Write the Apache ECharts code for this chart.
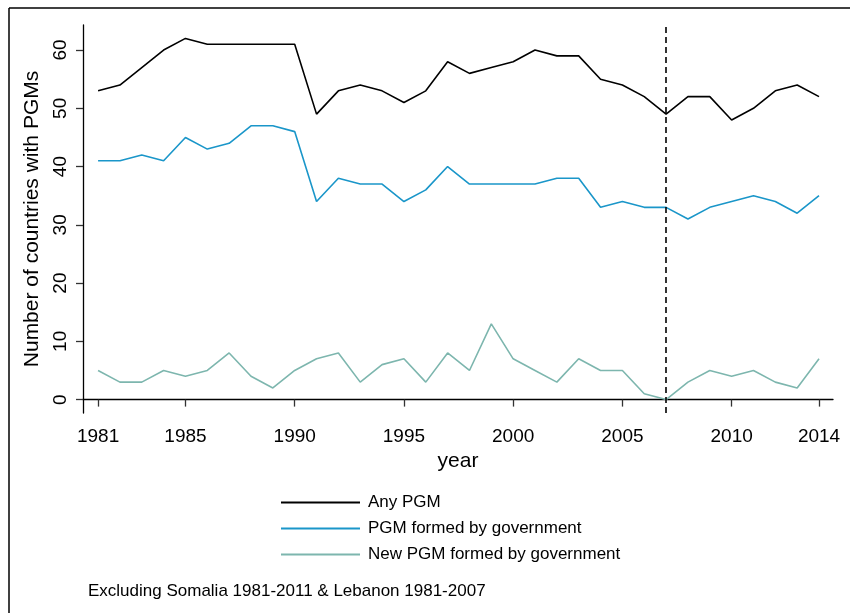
<!DOCTYPE html>
<html>
<head>
<meta charset="utf-8">
<script src="https://cdn.jsdelivr.net/npm/echarts@6/dist/echarts.min.js"></script>
<style>
  html, body { margin: 0; padding: 0; background: #fff; }
  #chart { width: 850px; height: 613px; }
</style>
</head>
<body>
<div id="chart"></div>
<script>
// Years covered by the series
const years = [1981,1982,1983,1984,1985,1986,1987,1988,1989,1990,1991,1992,1993,1994,1995,1996,1997,
  1998,1999,2000,2001,2002,2003,2004,2005,2006,2007,2008,2009,2010,2011,2012,2013,2014];

// Countries with any pro-government militia
const anyPGM = [53,54,57,60,62,61,61,61,61,61,49,53,54,53,51,53,58,56,57,58,60,59,59,55,54,52,49,52,52,48,50,53,54,52];
// Countries with a PGM formed by the government
const govPGM = [41,41,42,41,45,43,44,47,47,46,34,38,37,37,34,36,40,37,37,37,37,38,38,33,34,33,33,31,33,34,35,34,32,35];
// Countries where the government formed a new PGM that year
const newGovPGM = [5,3,3,5,4,5,8,4,2,5,7,8,3,6,7,3,8,5,13,7,5,3,7,5,5,1,0,3,5,4,5,3,2,7];

// Axis tick labels and the reference year marked by the dashed line
const xTicks = [1981,1985,1990,1995,2000,2005,2010,2014];
const yTicks = [0,10,20,30,40,50,60];
const markYear = 2007;

const seriesNames = ['Any PGM', 'PGM formed by government', 'New PGM formed by government'];
const seriesColors = ['#000000', '#1a96c9', '#7db6ae'];

const pairs = vals => years.map((y, i) => [y, vals[i]]);

const font = '"Liberation Sans", Arial, Helvetica, sans-serif';
const chart = echarts.init(document.getElementById('chart'), null, { renderer: 'canvas' });

chart.setOption({
  animation: false,
  backgroundColor: '#ffffff',
  textStyle: { fontFamily: font, color: '#000' },
  grid: { left: 83, right: 17, top: 25, bottom: 200 },
  xAxis: {
    type: 'value',
    min: 1980.31,
    max: 2014.64,
    name: 'year',
    nameLocation: 'middle',
    nameGap: 37,
    nameTextStyle: { fontSize: 21, color: '#000', fontFamily: font },
    axisLine: { show: true, lineStyle: { color: '#000', width: 1.3 } },
    axisTick: { show: true, customValues: xTicks, length: 7, lineStyle: { color: '#333', width: 1.3 } },
    axisLabel: {
      customValues: xTicks, fontSize: 19, color: '#000', margin: 14, fontFamily: font,
      formatter: v => String(v)
    },
    splitLine: { show: false }
  },
  yAxis: {
    type: 'value',
    min: -2.3,
    max: 64.3,
    name: 'Number of countries with PGMs',
    nameLocation: 'middle',
    nameRotate: 90,
    nameGap: 38,
    nameTextStyle: { fontSize: 21, color: '#000', fontFamily: font },
    axisLine: { show: true, lineStyle: { color: '#000', width: 1.3 } },
    axisTick: { show: true, customValues: yTicks, length: 7, lineStyle: { color: '#333', width: 1.3 } },
    axisLabel: { customValues: yTicks, rotate: 90, fontSize: 19, color: '#000', margin: 13, fontFamily: font },
    splitLine: { show: false }
  },
  legend: {
    orient: 'vertical',
    left: 281,
    top: 494,
    padding: 0,
    itemWidth: 79,
    itemHeight: 2,
    itemGap: 9,
    data: seriesNames.map((n, i) => ({ name: n, icon: 'rect', itemStyle: { color: seriesColors[i] } })),
    textStyle: { fontSize: 17, color: '#000', fontFamily: font, padding: [0, 0, 0, 3] }
  },
  graphic: [
    { type: 'line', shape: { x1: 9, y1: 8, x2: 850, y2: 8 }, style: { stroke: '#000', lineWidth: 1.5 } },
    { type: 'line', shape: { x1: 9, y1: 8, x2: 9, y2: 613 }, style: { stroke: '#000', lineWidth: 1.5 } },
    {
      type: 'text', left: 88, top: 583,
      style: { text: 'Excluding Somalia 1981-2011 & Lebanon 1981-2007', fontSize: 17, fill: '#000', fontFamily: font }
    }
  ],
  series: [
    {
      name: seriesNames[0], type: 'line', data: pairs(anyPGM), symbol: 'none',
      lineStyle: { color: seriesColors[0], width: 1.6 }, itemStyle: { color: seriesColors[0] },
      markLine: {
        silent: true, symbol: 'none', label: { show: false },
        lineStyle: { color: '#000', width: 1.6, type: [6, 4] },
        data: [{ xAxis: markYear }]
      }
    },
    {
      name: seriesNames[1], type: 'line', data: pairs(govPGM), symbol: 'none',
      lineStyle: { color: seriesColors[1], width: 1.6 }, itemStyle: { color: seriesColors[1] }
    },
    {
      name: seriesNames[2], type: 'line', data: pairs(newGovPGM), symbol: 'none',
      lineStyle: { color: seriesColors[2], width: 1.6 }, itemStyle: { color: seriesColors[2] }
    }
  ]
});
</script>
</body>
</html>
